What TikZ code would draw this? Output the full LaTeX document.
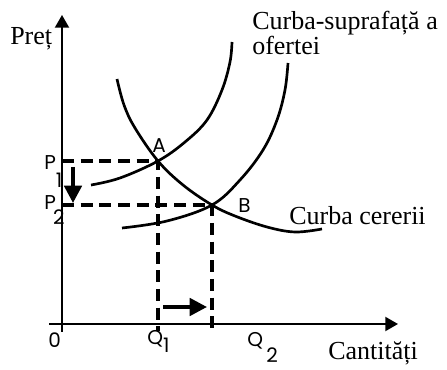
\documentclass[tikz,border=0pt]{standalone}
\usepackage{fontspec}
\setmainfont{Liberation Serif}
\setsansfont{Poppins}
\usepackage{tikz}
\usetikzlibrary{positioning,arrows.meta}

\begin{document}
\begin{tikzpicture}[x=0.75pt,y=-0.75pt,
  axis/.style={line width=1.5pt,-{Triangle[length=9.5pt,width=10.5pt]}},
  curve/.style={line width=2pt},
  guide/.style={line width=2.5pt,dash pattern=on 9pt off 5pt},
  movearrow/.style={line width=2.8pt,-{Triangle[length=13pt,width=13pt]}},
  lbl/.style={font=\fontsize{19.5pt}{17.3pt}\selectfont,inner sep=0pt},
  ptlbl/.style={font=\sffamily\fontsize{15pt}{15pt}\selectfont,inner sep=0pt}]
\useasboundingbox (0,0) rectangle (447,370);
\coordinate (O) at (62,324);
\coordinate (A) at (158,161);
\coordinate (B) at (212,205);
% axes
\draw[axis] (62,332) -- (62,15);
\draw[axis] (49,324) -- (398,324);
% curves
\draw[curve] plot[smooth,tension=0.6] coordinates {(117,79) (124,105) (135,128) (158,161) (183,185)
  (212,205) (235,216) (267,227) (295,232) (322,229)};
\draw[curve] plot[smooth,tension=0.6] coordinates {(91,185) (120,178) (158,161) (185,142) (207,120)
  (222,90) (230,62) (232,42)};
\draw[curve] plot[smooth,tension=0.6] coordinates {(122,228) (167,221) (212,205) (240,180) (263,150)
  (277,120) (285,90) (288,63)};
% dashed guides
\draw[guide] (O |- A) -- (A) -- ([yshift=-5]A |- O);
\draw[guide] (O |- B) -- (B) -- ([yshift=-5]B |- O);
% arrows showing the shift
\draw[movearrow] (73,167) -- (73,203);
\draw[movearrow] (163,307) -- (207,307);
% labels
\node[lbl,anchor=base west] (pret) at (10,45) {Preț};
\node[lbl,anchor=base west,align=left] (oferta) at (252,55) {Curba-suprafață a\\ofertei};
\node[lbl,anchor=base west] (cerere) at (289,225) {Curba cererii};
\node[lbl,anchor=base west] (cant) at (328,360) {Cantități};
\node[ptlbl,anchor=base west] (p1) at (44,170) {P\raisebox{-13pt}{1}};
\node[ptlbl,anchor=base west] (p2) at (44,210) {P\kern-2pt\raisebox{-11pt}{2}};
\node[ptlbl,anchor=base] (la) at (159,153) {A};
\node[ptlbl,anchor=base west] (lb) at (238,213) {B};
\node[ptlbl,anchor=base west] (zero) at (48,348) {0};
\node[ptlbl,anchor=base west] (q1) at (147,345) {Q\raisebox{-6pt}{1}};
\node[ptlbl,anchor=base west] (q2) at (247,347) {Q\,\raisebox{-12pt}{2}};
\end{tikzpicture}
\end{document}
